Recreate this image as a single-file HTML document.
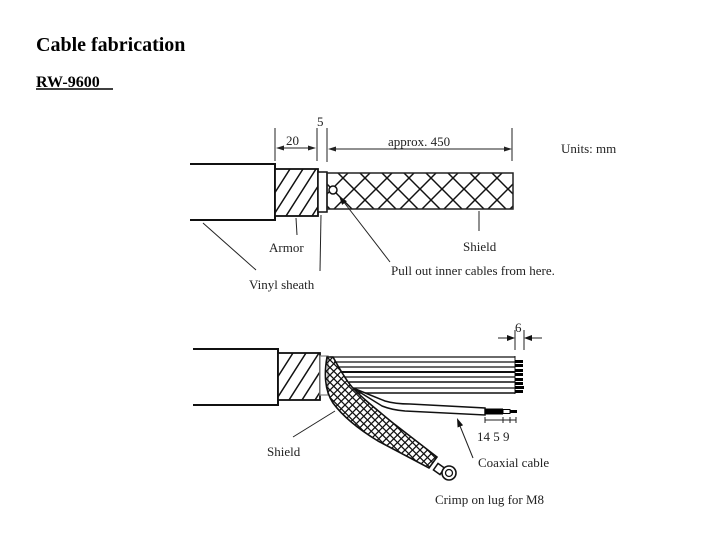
<!DOCTYPE html>
<html>
<head>
<meta charset="utf-8">
<style>
  html,body{margin:0;padding:0;background:#fff;}
  svg{display:block;}
  text{font-family:"Liberation Serif",serif;fill:#222;}
</style>
</head>
<body>
<svg width="702" height="533" viewBox="0 0 702 533" xmlns="http://www.w3.org/2000/svg">
  <defs>
    <pattern id="xh" patternUnits="userSpaceOnUse" x="332" y="167" width="22" height="22">
      <line x1="0" y1="0" x2="22" y2="22" stroke="#111" stroke-width="1.5"/>
      <line x1="22" y1="0" x2="0" y2="22" stroke="#111" stroke-width="1.5"/>
    </pattern>
    <pattern id="xh2" patternUnits="userSpaceOnUse" x="0" y="0" width="7.5" height="7.5">
      <line x1="0" y1="0" x2="7.5" y2="7.5" stroke="#111" stroke-width="1.3"/>
      <line x1="7.5" y1="0" x2="0" y2="7.5" stroke="#111" stroke-width="1.3"/>
    </pattern>
    <clipPath id="arm1"><rect x="275" y="169" width="43" height="47"/></clipPath>
    <clipPath id="arm2"><rect x="278" y="353" width="42" height="47"/></clipPath>
  </defs>

  <!-- Titles -->
  <text x="36" y="51" font-size="20" font-weight="bold" style="fill:#000">Cable fabrication</text>
  <text x="36" y="87" font-size="16" font-weight="bold" style="fill:#000">RW-9600</text>
  <line x1="36" y1="89" x2="113" y2="89" stroke="#000" stroke-width="1.5"/>

  <!-- ===== TOP DIAGRAM ===== -->
  <path d="M190,164 L275,164 L275,220 L190,220" fill="none" stroke="#111" stroke-width="2"/>
  <rect x="275" y="169" width="43" height="47" fill="#fff" stroke="#111" stroke-width="1.8"/>
  <g clip-path="url(#arm1)" stroke="#111" stroke-width="1.5">
    <line x1="260" y1="216" x2="290" y2="169"/>
    <line x1="273" y1="216" x2="303" y2="169"/>
    <line x1="286" y1="216" x2="316" y2="169"/>
    <line x1="299" y1="216" x2="329" y2="169"/>
    <line x1="312" y1="216" x2="342" y2="169"/>
  </g>
  <rect x="318" y="172" width="9" height="40" fill="#fff" stroke="#111" stroke-width="1.5"/>
  <rect x="327" y="173" width="186" height="36" fill="url(#xh)" stroke="#222" stroke-width="1.5"/>
  <circle cx="333" cy="190" r="4" fill="#fff" stroke="#111" stroke-width="1.5"/>

  <g stroke="#222" stroke-width="1">
    <line x1="275" y1="128" x2="275" y2="161"/>
    <line x1="317" y1="128" x2="317" y2="161"/>
    <line x1="327" y1="128" x2="327" y2="162"/>
    <line x1="512" y1="128" x2="512" y2="161"/>
    <line x1="280" y1="148" x2="312" y2="148"/>
    <line x1="332" y1="149" x2="508" y2="149"/>
  </g>
  <g fill="#222">
    <polygon points="276,148 284,145.5 284,150.5"/>
    <polygon points="316,148 308,145.5 308,150.5"/>
    <polygon points="328,149 336,146.5 336,151.5"/>
    <polygon points="512,149 504,146.5 504,151.5"/>
  </g>
  <text x="286" y="145" font-size="13">20</text>
  <text x="317" y="126" font-size="13">5</text>
  <text x="388" y="146" font-size="13">approx. 450</text>
  <text x="561" y="153" font-size="13">Units: mm</text>

  <g stroke="#222" stroke-width="1">
    <line x1="203" y1="223" x2="256" y2="270"/>
    <line x1="296" y1="218" x2="297" y2="235"/>
    <line x1="321" y1="215" x2="320" y2="271"/>
    <line x1="479" y1="211" x2="479" y2="231"/>
    <line x1="390" y1="262" x2="343" y2="201"/>
  </g>
  <polygon points="339,196 346.9,201.3 342.1,204.9" fill="#111"/>

  <text x="269" y="252" font-size="13">Armor</text>
  <text x="463" y="251" font-size="13">Shield</text>
  <text x="391" y="275" font-size="13">Pull out inner cables from here.</text>
  <text x="249" y="289" font-size="13">Vinyl sheath</text>

  <!-- ===== BOTTOM DIAGRAM ===== -->
  <path d="M193,349 L278,349 L278,405 L193,405" fill="none" stroke="#111" stroke-width="2"/>
  <rect x="278" y="353" width="42" height="47" fill="#fff" stroke="#111" stroke-width="1.8"/>
  <g clip-path="url(#arm2)" stroke="#111" stroke-width="1.5">
    <line x1="263" y1="400" x2="293" y2="353"/>
    <line x1="276" y1="400" x2="306" y2="353"/>
    <line x1="289" y1="400" x2="319" y2="353"/>
    <line x1="302" y1="400" x2="332" y2="353"/>
    <line x1="315" y1="400" x2="345" y2="353"/>
  </g>
  <rect x="320" y="356" width="8" height="39" fill="#fff" stroke="#888" stroke-width="1.3"/>

  <g stroke="#111">
    <line x1="330" y1="357" x2="515" y2="357" stroke-width="1.2"/>
    <line x1="334" y1="362" x2="515" y2="362" stroke-width="1.2"/>
    <line x1="337" y1="367" x2="515" y2="367" stroke-width="1.2"/>
    <line x1="341" y1="372" x2="515" y2="372" stroke-width="2"/>
    <line x1="345" y1="377" x2="515" y2="377" stroke-width="1.2"/>
    <line x1="349" y1="382" x2="515" y2="382" stroke-width="1.5"/>
    <line x1="353" y1="388" x2="515" y2="388" stroke-width="1.2"/>
    <line x1="357" y1="393" x2="515" y2="393" stroke-width="1.5"/>
    <line x1="515" y1="356" x2="515" y2="394" stroke-width="1"/>
  </g>
  <g fill="#000">
    <rect x="515" y="360" width="8" height="3"/>
    <rect x="515" y="364" width="8" height="3"/>
    <rect x="515" y="369" width="8" height="3"/>
    <rect x="515" y="373" width="8" height="3"/>
    <rect x="515" y="378" width="8" height="3"/>
    <rect x="515" y="382" width="8" height="3"/>
    <rect x="515" y="386" width="9" height="3"/>
    <rect x="515" y="390" width="8" height="3"/>
  </g>

  <g stroke="#222" stroke-width="1">
    <line x1="515" y1="330" x2="515" y2="350"/>
    <line x1="524" y1="330" x2="524" y2="350"/>
    <line x1="498" y1="338" x2="508" y2="338"/>
    <line x1="531" y1="338" x2="542" y2="338"/>
  </g>
  <polygon points="515,338 507,335 507,341" fill="#111"/>
  <polygon points="524,338 532,335 532,341" fill="#111"/>
  <text x="515" y="332" font-size="13">6</text>

  <path d="M353,388 L385,401 Q395,404 410,404 L485,408 L485,415 L405,411 Q392,410 382,406 Z" fill="#fff" stroke="#111" stroke-width="1.5"/>
  <rect x="485" y="408.5" width="18" height="6" fill="#000"/>
  <rect x="503" y="409.5" width="7" height="4" fill="#fff" stroke="#000" stroke-width="1"/>
  <rect x="510" y="410" width="7" height="3" fill="#000"/>
  <g stroke="#222" stroke-width="1">
    <line x1="485" y1="420" x2="516" y2="420"/>
    <line x1="485" y1="417" x2="485" y2="423"/>
    <line x1="503" y1="417" x2="503" y2="423"/>
    <line x1="510" y1="417" x2="510" y2="423"/>
    <line x1="516" y1="417" x2="516" y2="423"/>
  </g>
  <text x="477" y="441" font-size="13">14 5 9</text>

  <path d="M327,357 C324,374 325,391 333,403 C344,418 360,430 378,441 L429,468 L437,457 L393,423 C376,409 362,398 352,387 C345,379 338,366 333,357 Z" fill="url(#xh2)" stroke="#111" stroke-width="1.6"/>
  <rect x="435" y="465" width="8" height="8" fill="#fff" stroke="#111" stroke-width="1.5" transform="rotate(35 439 469)"/>
  <circle cx="449" cy="473" r="7" fill="#fff" stroke="#111" stroke-width="1.6"/>
  <circle cx="449" cy="473" r="3.5" fill="#fff" stroke="#111" stroke-width="1.3"/>

  <g stroke="#222" stroke-width="1">
    <line x1="335" y1="411" x2="293" y2="437"/>
    <line x1="473" y1="458" x2="460" y2="426"/>
  </g>
  <polygon points="457,418 463.1,425.3 457.6,427.5" fill="#111"/>

  <text x="267" y="456" font-size="13">Shield</text>
  <text x="478" y="467" font-size="13">Coaxial cable</text>
  <text x="435" y="504" font-size="13">Crimp on lug for M8</text>
</svg>
</body>
</html>
